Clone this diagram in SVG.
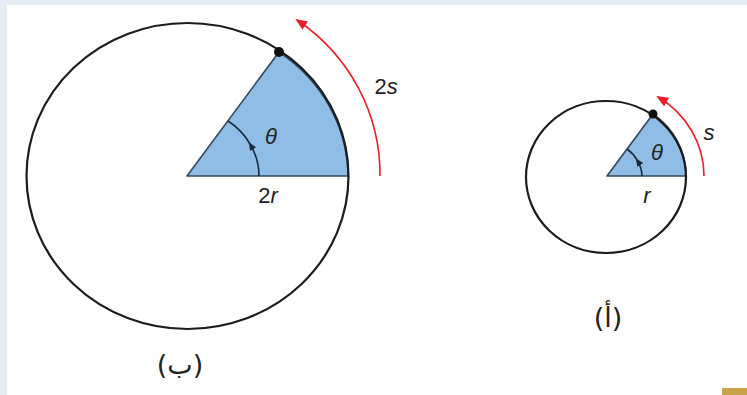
<svg xmlns="http://www.w3.org/2000/svg" width="747" height="395" viewBox="0 0 747 395">
<defs>
<style>
.circ{fill:none;stroke:#1c1c1c;stroke-width:2.2}
.sector{fill:#8fbde6;stroke:#33495e;stroke-width:1.6;stroke-linejoin:round}
.ang{fill:none;stroke:#1c2a38;stroke-width:1.6}
.red{fill:none;stroke:#e8202a;stroke-width:1.6}
.lbl{font-family:"Liberation Sans",Arial,sans-serif;font-size:22px;fill:#222;text-anchor:middle}
.it{font-style:italic}
.ar{font-family:"DejaVu Sans",sans-serif;font-size:27px;fill:#222;text-anchor:middle}
</style>
<marker id="redHead" viewBox="0 0 12 10" refX="10" refY="5" markerWidth="12" markerHeight="10" markerUnits="userSpaceOnUse" orient="auto">
<path d="M0,0 L12,5 L0,10 Z" fill="#e8202a"/>
</marker>
<marker id="angHead" viewBox="0 0 8 7" refX="6" refY="3.5" markerWidth="8" markerHeight="7" markerUnits="userSpaceOnUse" orient="auto">
<path d="M0,0 L8,3.5 L0,7 Z" fill="#1c2a38"/>
</marker>
</defs>
<rect x="0" y="0" width="747" height="395" fill="#e4ecf5"/>
<rect x="7" y="5" width="740" height="390" fill="#ffffff"/>
<rect x="722" y="388" width="25" height="7" fill="#c9a24c"/>

<g id="diagram-b">
<path class="sector" d="M187,176 L348,176 A161,153 0 0 0 279,52 Z"/>
<ellipse class="circ" cx="187.5" cy="176" rx="161" ry="153"/>
<circle cx="279" cy="52" r="5" fill="#111"/>
<text class="lbl it" x="271" y="144">θ</text>
<text class="lbl" x="268" y="203">2<tspan class="it">r</tspan></text>
<text class="lbl" x="386" y="94">2<tspan class="it">s</tspan></text>
<text class="ar" x="180" y="374">(ب)</text>
</g>

<g id="diagram-a">
<path class="sector" d="M607,176 L686,176 A80,76 0 0 0 653,114 Z"/>
<ellipse class="circ" cx="606" cy="177" rx="80" ry="76"/>
<circle cx="653" cy="114" r="4.5" fill="#111"/>
<text class="lbl it" x="657" y="160">θ</text>
<text class="lbl it" x="647" y="203">r</text>
<text class="lbl it" x="709" y="140">s</text>
<text class="ar" x="608" y="327">(أ)</text>
</g>

<g id="connectors">
<path class="ang" d="M259,176 A72,66 0 0 0 250,144" marker-end="url(#angHead)"/>
<path class="ang" d="M250,144 A72,66 0 0 0 228,121"/>
<path class="ang" d="M642,176 A35,32 0 0 0 637,160" marker-end="url(#angHead)"/>
<path class="ang" d="M637,160 A35,32 0 0 0 627,149"/>
<path class="red" d="M380,176 A193,188 0 0 0 297,20" marker-end="url(#redHead)"/>
<path class="red" d="M704,176 A97,93 0 0 0 658,97" marker-end="url(#redHead)"/>
</g>
</svg>
